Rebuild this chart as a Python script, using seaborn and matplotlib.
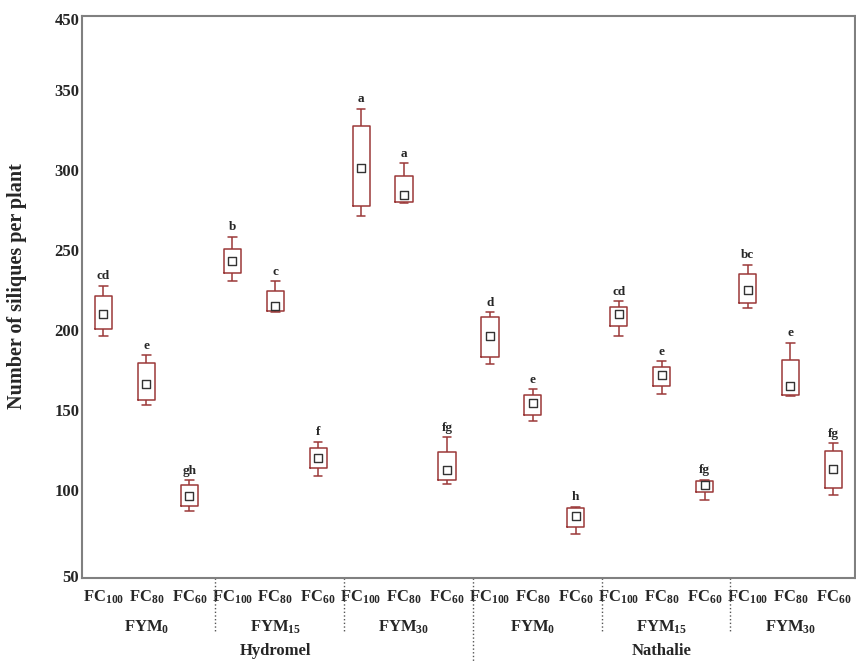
import numpy as np
import pandas as pd
import matplotlib
matplotlib.use("Agg")
import matplotlib.pyplot as plt
import matplotlib.transforms as mtransforms
import seaborn as sns

# ---------------- data ----------------
cultivars = ["Hydromel", "Nathalie"]
fym_labels = ["FYM$_{\\mathbf{0}}$", "FYM$_{\\mathbf{15}}$", "FYM$_{\\mathbf{30}}$"]
fc_labels = ["FC$_{\\mathbf{100}}$", "FC$_{\\mathbf{80}}$", "FC$_{\\mathbf{60}}$"]

whis_hi = [227.5, 184, 106, 258, 230.5, 130, 338, 304, 133,
           211, 163, 89.5, 218, 180.5, 106.5, 240.5, 192, 129]
q3 = [221, 179, 103, 250.5, 224, 126, 327.5, 296, 123.5,
      208, 159.5, 88.5, 214, 176.5, 105.5, 235, 181, 124]
means = [210, 166, 96.5, 243, 215, 120, 301, 284.5, 112.5,
         196, 154, 84, 210, 171.5, 103, 225, 165, 113]
q1 = [200.5, 156, 90, 235.5, 212, 114, 277.5, 280, 106,
      183, 147, 77, 202.5, 165, 99, 217, 159, 101.5]
whis_lo = [196, 153, 87, 230.5, 211, 109, 271, 279, 104,
           178.5, 143, 72.5, 196, 160, 93.5, 213.5, 158.5, 97]
letters = ["cd", "e", "gh", "b", "c", "f", "a", "a", "fg",
           "d", "e", "h", "cd", "e", "fg", "bc", "e", "fg"]

ytick_labels = ["50", "100", "150", "200", "250", "300", "350", "450"]

# ---------------- build table ----------------
cats = [f"{cv}|{fy}|{fc}" for cv in cultivars for fy in fym_labels for fc in fc_labels]
vals = np.column_stack([whis_lo, q1, means, q3, whis_hi]).ravel()
df = pd.DataFrame({"cat": np.repeat(cats, 5), "value": vals})
mean_df = pd.DataFrame({"cat": cats, "mean": means})

# ---------------- style ----------------
sns.set_theme(style="white")
plt.rcParams["font.family"] = ["Liberation Serif", "DejaVu Serif"]
plt.rcParams["font.weight"] = "bold"
plt.rcParams["mathtext.fontset"] = "custom"
plt.rcParams["mathtext.rm"] = "Liberation Serif:bold"
plt.rcParams["mathtext.bf"] = "Liberation Serif:bold"
plt.rcParams["mathtext.it"] = "Liberation Serif:bold"

box_color = "#9b3838"
spine_color = "#808080"

fig = plt.figure(figsize=(8.56, 6.61), dpi=100)
ax = fig.add_axes([0.0958, 0.1256, 0.9029, 0.8502])

sns.boxplot(data=df, x="cat", y="value", order=cats, whis=(0, 100), width=0.4,
            fill=False, color=box_color, linewidth=1.1, showfliers=False,
            medianprops={"visible": False}, ax=ax)
sns.stripplot(data=mean_df, x="cat", y="mean", order=cats, jitter=False,
              marker="s", size=5.5, color="white", edgecolor="#333333",
              linewidth=1.0, ax=ax, zorder=5)

for i, (lab, hi) in enumerate(zip(letters, whis_hi)):
    ax.annotate(lab, (i, hi), xytext=(0, 2.5), textcoords="offset points",
                ha="center", va="bottom", fontsize=9.5, fontweight="bold")

ax.set_xlim(-0.5, len(cats) - 0.5)
ax.set_ylim(45, 396)
ax.set_yticks([46, 100, 150, 200, 250, 300, 350, 394])
ax.set_yticklabels(ytick_labels, fontsize=12, fontweight="bold")
ax.set_xticks(range(len(cats)))
ax.set_xticklabels(fc_labels * (len(cultivars) * len(fym_labels)),
                   fontsize=12, fontweight="bold")
ax.tick_params(axis="x", direction="in", length=3, color=spine_color, pad=8)
ax.tick_params(axis="y", length=0, pad=2)
ax.set_xlabel("")
ax.set_ylabel("Number of siliques per plant", fontsize=14.5, fontweight="bold")
ax.yaxis.set_label_coords(-0.071, 0.52)

for s in ax.spines.values():
    s.set_visible(True)
    s.set_color(spine_color)
    s.set_linewidth(1.5)

trans = mtransforms.blended_transform_factory(ax.transData, ax.transAxes)
n_fc = len(fc_labels)
n_fym = len(fym_labels)
for g in range(1, len(cultivars) * n_fym):
    x = g * n_fc - 0.4
    bottom = -0.16 if g % n_fym == 0 else -0.098
    ax.plot([x, x], [0, bottom], ls=":", color="#555555", lw=1,
            transform=trans, clip_on=False)

for c, cv in enumerate(cultivars):
    for f, fy in enumerate(fym_labels):
        center = (c * n_fym + f) * n_fc + (n_fc - 1) / 2
        ax.text(center, -0.087, fy, transform=trans, ha="center", va="center",
                fontsize=12, fontweight="bold")
    ccenter = c * n_fym * n_fc + (n_fym * n_fc - 1) / 2
    ax.text(ccenter, -0.130, cv, transform=trans, ha="center", va="center",
            fontsize=12, fontweight="bold")

fig.savefig("out.png", dpi=100)
